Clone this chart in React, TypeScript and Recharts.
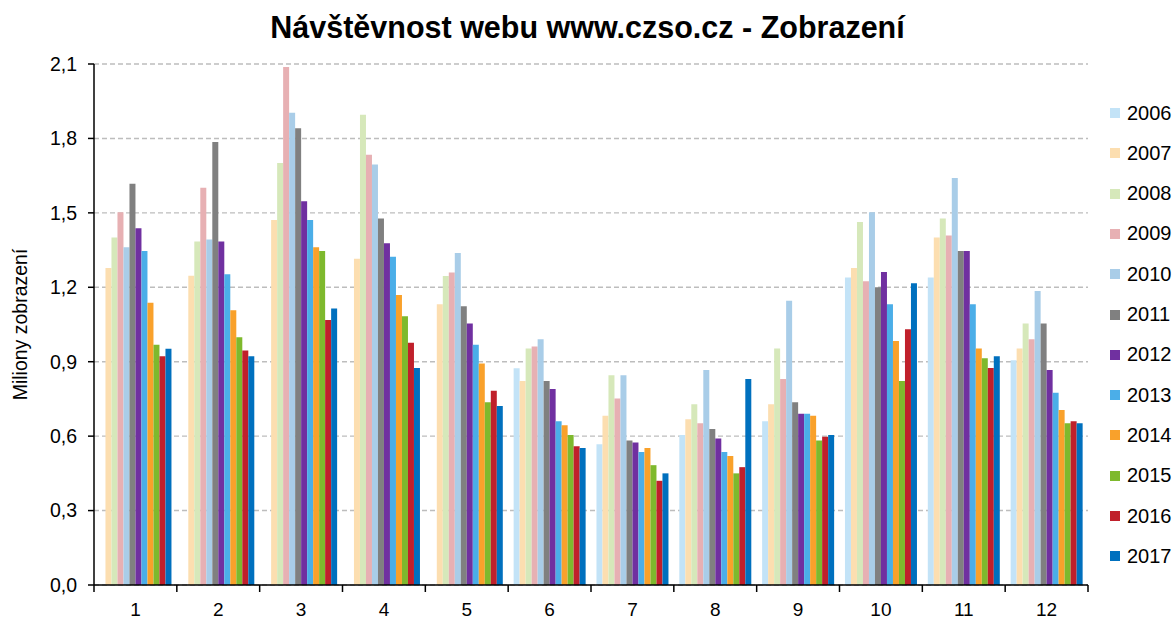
import React from 'react';
import { BarChart, Bar, XAxis, YAxis, CartesianGrid } from 'recharts';

const months = ['1', '2', '3', '4', '5', '6', '7', '8', '9', '10', '11', '12'];
const years = ['2006', '2007', '2008', '2009', '2010', '2011', '2012', '2013', '2014', '2015', '2016', '2017'];
const colors = ['#C3E3F7', '#FCDEB0', '#D6E8BA', '#E7B0B3', '#A9CDE8', '#808080', '#7030A0', '#4BAEE8', '#F9A12B', '#7EB92D', '#C0202B', '#0070BE'];

const v2006 = [null, null, null, null, null, 0.874, 0.567, 0.605, 0.660, 1.239, 1.239, 0.906];
const v2007 = [1.278, 1.247, 1.471, 1.315, 1.132, 0.822, 0.682, 0.668, 0.729, 1.278, 1.401, 0.953];
const v2008 = [1.401, 1.385, 1.701, 1.895, 1.245, 0.953, 0.845, 0.729, 0.953, 1.463, 1.477, 1.054];
const v2009 = [1.502, 1.601, 2.088, 1.734, 1.260, 0.961, 0.752, 0.652, 0.830, 1.224, 1.409, 0.991];
const v2010 = [1.361, 1.393, 1.903, 1.695, 1.338, 0.991, 0.845, 0.867, 1.146, 1.502, 1.640, 1.185];
const v2011 = [1.617, 1.786, 1.841, 1.477, 1.124, 0.822, 0.582, 0.629, 0.737, 1.200, 1.346, 1.054];
const v2012 = [1.438, 1.385, 1.547, 1.377, 1.054, 0.790, 0.574, 0.590, 0.690, 1.262, 1.346, 0.867];
const v2013 = [1.346, 1.253, 1.471, 1.323, 0.968, 0.660, 0.536, 0.536, 0.690, 1.132, 1.132, 0.775];
const v2014 = [1.138, 1.107, 1.361, 1.169, 0.893, 0.644, 0.552, 0.520, 0.682, 0.983, 0.953, 0.705];
const v2015 = [0.968, 0.999, 1.346, 1.083, 0.737, 0.605, 0.483, 0.450, 0.582, 0.822, 0.914, 0.652];
const v2016 = [0.922, 0.945, 1.068, 0.976, 0.783, 0.559, 0.420, 0.475, 0.598, 1.031, 0.875, 0.660];
const v2017 = [0.952, 0.922, 1.114, 0.875, 0.721, 0.552, 0.450, 0.830, 0.605, 1.216, 0.922, 0.652];

const yTicks = [0, 0.3, 0.6, 0.9, 1.2, 1.5, 1.8, 2.1];

const series = [v2006, v2007, v2008, v2009, v2010, v2011, v2012, v2013, v2014, v2015, v2016, v2017];

const data = months.map((m, i) => {
  const row: Record<string, any> = { month: m };
  years.forEach((y, k) => {
    row['y' + y] = series[k][i];
  });
  return row;
});

const FONT = '"Liberation Sans", Arial, sans-serif';

const XTick = (props: any) => {
  const { x, y, payload, index } = props;
  const half = payload && payload.offset ? payload.offset : 41.4;
  return (
    <g>
      <line x1={x - half} y1={y} x2={x - half} y2={y + 7} stroke="#000" strokeWidth={1.5} />
      {index === months.length - 1 && (
        <line x1={x + half} y1={y} x2={x + half} y2={y + 7} stroke="#000" strokeWidth={1.5} />
      )}
      <text x={x} y={y + 31} textAnchor="middle" fontSize={19} fontFamily={FONT} fill="#000">
        {payload.value}
      </text>
    </g>
  );
};

const YLabel = (props: any) => {
  const vb = props.viewBox || { x: 0, y: 64, width: 94, height: 521 };
  const cy = vb.y + vb.height / 2;
  return (
    <text
      transform={`translate(20, ${cy}) rotate(-90)`}
      textAnchor="middle"
      dominantBaseline="central"
      fontSize={19.5}
      fontFamily={FONT}
      fill="#000"
    >
      Miliony zobrazení
    </text>
  );
};

export default function App() {
  return (
    <div style={{ position: 'absolute', left: 0, top: 0, width: 1175, height: 619, background: '#fff', fontFamily: FONT }}>
      <div
        style={{
          position: 'absolute',
          left: 0,
          top: 9,
          width: 1175,
          textAlign: 'center',
          fontSize: 30.5,
          fontWeight: 'bold',
          color: '#000',
          fontFamily: FONT,
          lineHeight: '36px',
        }}
      >
        Návštěvnost webu www.czso.cz - Zobrazení
      </div>
      <BarChart
        width={1175}
        height={619}
        data={data}
        margin={{ top: 64, right: 87, bottom: 0, left: 0 }}
        barCategoryGap="6.6%"
        barGap={0}
      >
        <CartesianGrid vertical={false} stroke="#BDBDBD" strokeDasharray="5 3" strokeWidth={1.4} />
        <XAxis
          dataKey="month"
          height={34}
          axisLine={{ stroke: '#000', strokeWidth: 1.5 }}
          tickLine={false}
          tickSize={0}
          tickMargin={0}
          tick={<XTick />}
          interval={0}
        />
        <YAxis
          width={94}
          domain={[0, 2.1]}
          ticks={yTicks}
          interval={0}
          allowDataOverflow
          axisLine={{ stroke: '#000', strokeWidth: 1.5 }}
          tickLine={{ stroke: '#000', strokeWidth: 1.5 }}
          tickSize={6}
          tickMargin={11}
          tick={{ fontSize: 19.5, fontFamily: FONT, fill: '#000' }}
          tickFormatter={(v: number) => v.toFixed(1).replace('.', ',')}
          label={<YLabel />}
        />
        {years.map((y, k) => (
          <Bar key={y} dataKey={'y' + y} name={y} fill={colors[k]} isAnimationActive={false} />
        ))}
      </BarChart>
      <div style={{ position: 'absolute', left: 1110, top: 0 }}>
        {years.map((y, k) => (
          <div
            key={y}
            style={{
              position: 'absolute',
              left: 0,
              top: 113 + k * 40.3 - 12,
              height: 24,
              display: 'flex',
              alignItems: 'center',
              whiteSpace: 'nowrap',
            }}
          >
            <div style={{ width: 10, height: 10, background: colors[k], marginRight: 7 }} />
            <span style={{ fontSize: 20, fontFamily: FONT, color: '#000' }}>{y}</span>
          </div>
        ))}
      </div>
    </div>
  );
}
